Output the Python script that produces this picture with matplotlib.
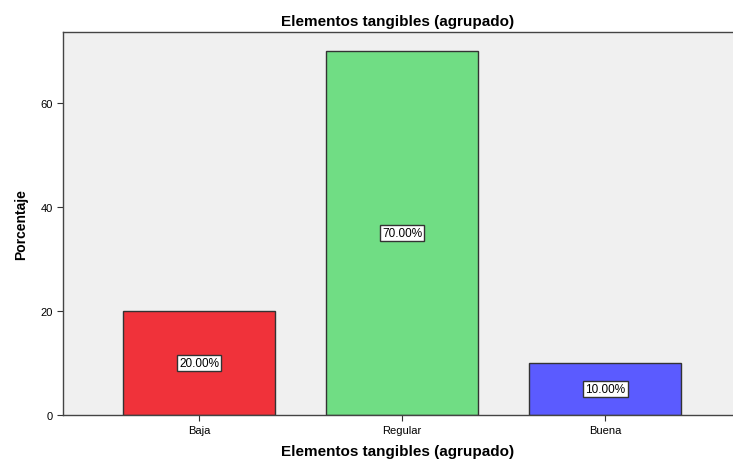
import matplotlib
matplotlib.use('Agg')
import matplotlib.pyplot as plt

plt.rcParams['font.family'] = ['Liberation Sans', 'DejaVu Sans']

categorias = ['Baja', 'Regular', 'Buena']
porcentajes = [20.0, 70.0, 10.0]
colores = ['#f0323a', '#70dd84', '#5b5bff']
yticks = [0, 20, 40, 60]

fig = plt.figure(figsize=(7.33, 4.6), dpi=100)
ax = fig.add_axes([0.0859, 0.0957, 0.9141, 0.8326])
ax.set_facecolor('#f0f0f0')

x = range(len(categorias))
ax.bar(x, porcentajes, width=0.75, color=colores, edgecolor='#333333', linewidth=1.0, zorder=2)

for xi, v in zip(x, porcentajes):
    ax.text(xi, v / 2, '%.2f%%' % v, ha='center', va='center', fontsize=8.5,
            bbox=dict(boxstyle='square,pad=0.2', facecolor='white', edgecolor='#333333', linewidth=1.0),
            zorder=3)

ax.set_xlim(-0.67, 2.63)
ax.set_ylim(0, 73.7)
ax.set_xticks(list(x))
ax.set_xticklabels(categorias, fontsize=8)
ax.set_yticks(yticks)
ax.set_yticklabels([str(t) for t in yticks], fontsize=8)
ax.tick_params(axis='both', length=4, width=0.8, color='#333333', pad=3)

for s in ['left', 'bottom', 'top']:
    ax.spines[s].set_color('#444444')
    ax.spines[s].set_linewidth(1.0)
ax.spines['right'].set_visible(False)

ax.set_title('Elementos tangibles (agrupado)', fontsize=11, fontweight='bold', pad=5)
ax.set_xlabel('Elementos tangibles (agrupado)', fontsize=11, fontweight='bold', labelpad=7)
ax.set_ylabel('Porcentaje', fontsize=10, fontweight='bold', labelpad=9)

fig.savefig('out.png', dpi=100)
